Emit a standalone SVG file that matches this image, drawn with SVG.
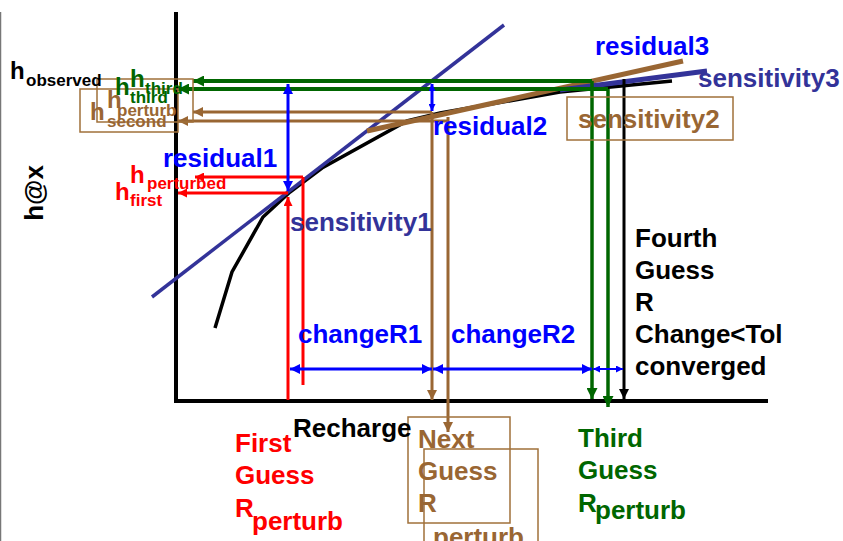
<svg xmlns="http://www.w3.org/2000/svg" width="843" height="541" viewBox="0 0 843 541">
<style>
text{font-family:"Liberation Sans",Arial,sans-serif;font-weight:bold}
.t{font-size:26px}
.h{font-size:24px}
.s{font-size:17px}
.red{fill:#ff0000}.blue{fill:#0000ff}.slate{fill:#333399}.brown{fill:#996633}.green{fill:#006600}.blk{fill:#000}
.box{fill:none;stroke:#a0703a;stroke-width:1.5}
</style>
<defs>
<marker id="aBlue" viewBox="0 0 10 10" refX="10" refY="5" markerWidth="12" markerHeight="10" markerUnits="userSpaceOnUse" orient="auto-start-reverse"><path d="M0,0L10,5L0,10z" fill="#0000ff"/></marker>
<marker id="aBlueS" viewBox="0 0 10 10" refX="10" refY="5" markerWidth="8" markerHeight="7" markerUnits="userSpaceOnUse" orient="auto-start-reverse"><path d="M0,0L10,5L0,10z" fill="#0000ff"/></marker>
<marker id="aRed" viewBox="0 0 10 10" refX="10" refY="5" markerWidth="12" markerHeight="9" markerUnits="userSpaceOnUse" orient="auto"><path d="M0,0L10,5L0,10z" fill="#ff0000"/></marker>
<marker id="aGreen" viewBox="0 0 10 10" refX="10" refY="5" markerWidth="13" markerHeight="11" markerUnits="userSpaceOnUse" orient="auto"><path d="M0,0L10,5L0,10z" fill="#006600"/></marker>
<marker id="aBrown" viewBox="0 0 10 10" refX="10" refY="5" markerWidth="12" markerHeight="10" markerUnits="userSpaceOnUse" orient="auto"><path d="M0,0L10,5L0,10z" fill="#996633"/></marker>
<marker id="aBlack" viewBox="0 0 10 10" refX="10" refY="5" markerWidth="12" markerHeight="10" markerUnits="userSpaceOnUse" orient="auto"><path d="M0,0L10,5L0,10z" fill="#000"/></marker>
</defs>
<rect width="843" height="541" fill="#fff"/>
<line x1="0.5" y1="12" x2="0.5" y2="541" stroke="#777" stroke-width="1.5"/>
<g id="axes" stroke="#000" stroke-width="4" fill="none">
<line x1="176" y1="12" x2="176" y2="402"/>
<line x1="174" y1="401" x2="768" y2="401"/>
</g>
<g id="curves" fill="none">
<polyline points="215,328 232,272 263,217 290,192 322,168 407,121 440,113 560,92 672,81" stroke="#000" stroke-width="3.5"/>
<line x1="152" y1="297" x2="504" y2="25" stroke="#333399" stroke-width="3.5"/>
<line x1="367" y1="131" x2="683" y2="61" stroke="#996633" stroke-width="5"/>
<line x1="560" y1="90" x2="707" y2="71" stroke="#333399" stroke-width="5"/>
</g>
<g id="connectors" fill="none">
<line x1="592" y1="81" x2="193" y2="81" stroke="#006600" stroke-width="4" marker-end="url(#aGreen)"/>
<line x1="608" y1="89" x2="178" y2="89" stroke="#006600" stroke-width="4" marker-end="url(#aGreen)"/>
<line x1="432" y1="112" x2="193" y2="112" stroke="#996633" stroke-width="3" marker-end="url(#aBrown)"/>
<line x1="448" y1="121" x2="178" y2="121" stroke="#996633" stroke-width="3" marker-end="url(#aBrown)"/>
<line x1="303" y1="177" x2="195" y2="177" stroke="#ff0000" stroke-width="3" marker-end="url(#aRed)"/>
<line x1="288" y1="193" x2="178" y2="193" stroke="#ff0000" stroke-width="3" marker-end="url(#aRed)"/>
<line x1="288" y1="400" x2="288" y2="197" stroke="#ff0000" stroke-width="3" marker-end="url(#aRed)"/>
<line x1="303" y1="177" x2="303" y2="385" stroke="#ff0000" stroke-width="3"/>
<line x1="288" y1="84" x2="288" y2="191" stroke="#0000ff" stroke-width="3" marker-start="url(#aBlue)" marker-end="url(#aBlue)"/>
<line x1="432" y1="84" x2="432" y2="111" stroke="#0000ff" stroke-width="3" marker-start="url(#aBlueS)" marker-end="url(#aBlueS)"/>
<line x1="432" y1="112" x2="432" y2="400" stroke="#996633" stroke-width="3" marker-end="url(#aBrown)"/>
<line x1="448" y1="117" x2="448" y2="432" stroke="#996633" stroke-width="3" marker-end="url(#aBrown)"/>
<line x1="592" y1="81" x2="592" y2="399" stroke="#006600" stroke-width="3.5" marker-end="url(#aGreen)"/>
<line x1="608" y1="89" x2="608" y2="407" stroke="#006600" stroke-width="3.5" marker-end="url(#aGreen)"/>
<line x1="624" y1="79" x2="624" y2="399" stroke="#000" stroke-width="3" marker-end="url(#aBlack)"/>
<line x1="290" y1="369" x2="432" y2="369" stroke="#0000ff" stroke-width="3" marker-start="url(#aBlue)" marker-end="url(#aBlue)"/>
<line x1="433" y1="369" x2="592" y2="369" stroke="#0000ff" stroke-width="3" marker-start="url(#aBlue)" marker-end="url(#aBlue)"/>
<line x1="593" y1="369" x2="623" y2="369" stroke="#0000ff" stroke-width="2" marker-start="url(#aBlueS)" marker-end="url(#aBlueS)"/>
</g>
<g id="boxes">
<rect class="box" x="97" y="79" width="96" height="43"/>
<rect class="box" x="80" y="89" width="98" height="43"/>
<rect class="box" x="567" y="97" width="166" height="43"/>
<rect class="box" x="408" y="417" width="102" height="106"/>
<rect class="box" x="424" y="449" width="114" height="100"/>
</g>
<g id="label-hobs"><text class="h blk" x="10" y="79">h</text><text class="s blk" x="26" y="86">observed</text></g>
<g id="label-hthird1"><text class="h green" x="115" y="95">h</text><text class="s green" x="130" y="103">third</text></g>
<g id="label-hthird2"><text class="h green" x="130" y="87">h</text><text class="s green" x="145" y="94">third</text></g>
<g id="label-hsecond"><text class="h brown" x="90" y="120">h</text><text class="s brown" x="107" y="127">second</text></g>
<g id="label-hperturb"><text class="h brown" x="107" y="108">h</text><text class="s brown" x="117" y="116">perturb</text></g>
<g id="label-hperturbed"><text class="h red" x="130" y="183">h</text><text class="s red" x="147" y="189">perturbed</text></g>
<g id="label-hfirst"><text class="h red" x="115" y="200">h</text><text class="s red" x="130" y="206">first</text></g>
<g id="label-yaxis"><text class="t blk" transform="translate(43,193) rotate(-90)" x="0" y="0" text-anchor="middle">h@x</text></g>
<g id="label-residual1"><text class="t blue" x="163" y="167">residual1</text></g>
<g id="label-residual2"><text class="t blue" x="433" y="135">residual2</text></g>
<g id="label-residual3"><text class="t blue" x="595" y="55">residual3</text></g>
<g id="label-sens1"><text class="t slate" x="290" y="231">sensitivity1</text></g>
<g id="label-sens2"><text class="t brown" x="578" y="128">sensitivity2</text></g>
<g id="label-sens3"><text class="t slate" x="698" y="87">sensitivity3</text></g>
<g id="label-changeR1"><text class="t blue" x="298" y="343">changeR1</text></g>
<g id="label-changeR2"><text class="t blue" x="451" y="343">changeR2</text></g>
<g id="label-fourth"><text class="t blk" x="635" y="247">Fourth</text><text class="t blk" x="635" y="279">Guess</text><text class="t blk" x="635" y="311">R</text><text class="t blk" x="635" y="343">Change&lt;Tol</text><text class="t blk" x="635" y="375">converged</text></g>
<g id="label-recharge"><text class="t blk" x="293" y="437">Recharge</text></g>
<g id="label-first"><text class="t red" x="235" y="452">First</text><text class="t red" x="235" y="484">Guess</text><text class="t red" x="235" y="517">R</text><text class="t red" x="252" y="530">perturb</text></g>
<g id="label-next"><text class="t brown" x="418" y="448">Next</text><text class="t brown" x="418" y="480">Guess</text><text class="t brown" x="418" y="512">R</text><text class="t brown" x="433" y="546">perturb</text></g>
<g id="label-third"><text class="t green" x="578" y="447">Third</text><text class="t green" x="578" y="479">Guess</text><text class="t green" x="578" y="512">R</text><text class="t green" x="595" y="519">perturb</text></g>
</svg>
